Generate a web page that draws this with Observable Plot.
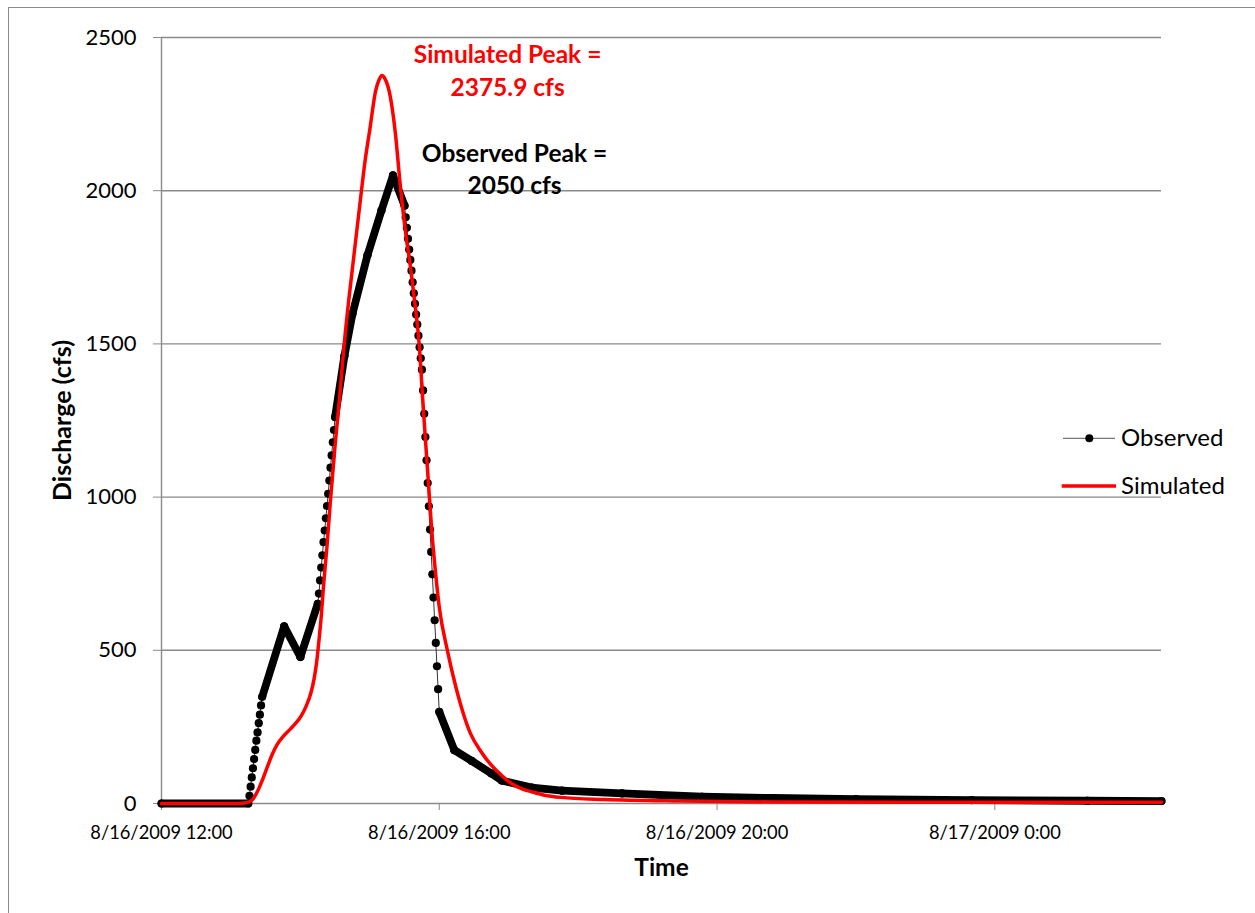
<!DOCTYPE html>
<html>
<head>
<meta charset="utf-8">
<script src="https://cdn.jsdelivr.net/npm/d3@7"></script>
<script src="https://cdn.jsdelivr.net/npm/@observablehq/plot@0.6"></script>
<style>
  html, body { margin: 0; padding: 0; background: #fff; }
  #wrap { position: relative; width: 1255px; height: 913px; overflow: hidden; font-family: Lato, "Open Sans", sans-serif; }
  #frame { position: absolute; left: 8px; top: 7px; width: 1300px; height: 1000px; border-left: 1.5px solid #8a8a8a; border-top: 1.5px solid #8a8a8a; pointer-events: none; }
  #chart { position: absolute; left: 0; top: 0; }
  #legend { position: absolute; left: 1040px; top: 410px; }
</style>
</head>
<body>
<div id="wrap">
  <div id="frame"></div>
  <div id="chart"></div>
  <svg id="legend" width="215" height="100"></svg>
</div>
<script>
// ---- data (minutes after 8/16/2009 12:00, discharge in cfs) ----
const obsMinutes = [0, 75, 76, 77, 78, 79, 80, 81, 82, 83, 84, 85, 86, 87, 106, 120, 135,
  136, 137, 138, 139, 140, 141, 142, 143, 144, 145, 146, 147, 148, 149, 150,
  158, 165, 178, 190, 200,
  210, 211, 212, 213, 214, 215, 216, 217, 218, 219, 220, 221, 222, 223, 224, 225,
  226, 227, 228, 229, 230, 231, 232, 233, 234, 235, 236, 237, 238, 239, 240,
  253, 268, 285, 294, 320, 346, 398, 467, 528, 600, 700, 800, 864];
const obsCfs = [0, 0, 25, 55, 85, 115, 145, 175, 205, 232, 262, 290, 320, 348, 578, 478, 652,
  685, 728, 770, 810, 853, 891, 931, 971, 1011, 1054, 1096, 1136, 1179, 1219, 1261,
  1460, 1598, 1790, 1935, 2050,
  1951, 1913, 1879, 1843, 1808, 1774, 1739, 1701, 1665, 1631, 1596, 1563, 1527, 1489, 1453, 1416,
  1348, 1272, 1196, 1120, 1046, 970, 894, 821, 748, 672, 598, 524, 448, 373, 299,
  174, 139, 98, 75, 52, 42, 33, 22, 18, 14, 11, 9, 8];

const simMinutes = [0, 60, 72, 78, 83, 87, 92, 96, 100, 105, 110, 116, 121, 125, 129, 132, 134, 136, 138, 140,
  143, 146, 150, 154, 158, 162, 166, 172, 176, 180, 185, 188, 190.5, 193, 197, 202, 206.5, 211, 215.5, 219,
  222.6, 226, 229.9, 234.2, 237, 240, 247, 254, 261.5, 267, 276, 285, 291, 302, 312, 320, 330, 345, 383,
  450, 527, 650, 864];
const simCfs = [0, 0, 2, 10, 40, 75, 125, 163, 193, 218, 238, 262, 288, 318, 360, 410, 460, 530, 610, 710,
  840, 990, 1170, 1330, 1505, 1650, 1780, 1975, 2100, 2200, 2326, 2362, 2375.9, 2366, 2320, 2190, 2010, 1860, 1740, 1630,
  1500, 1300, 1087, 859, 745, 641, 500, 385, 285, 228, 170, 125, 102, 66, 47, 38, 28, 20, 13,
  8, 5, 4, 4];

const xTickMinutes = [0, 240, 480, 720];
const xTickLabels = ["8/16/2009 12:00", "8/16/2009 16:00", "8/16/2009 20:00", "8/17/2009 0:00"];
const yTicks = [0, 500, 1000, 1500, 2000, 2500];
const seriesNames = ["Observed", "Simulated"];
const simPeakText = ["Simulated Peak =", "2375.9 cfs"];
const obsPeakText = ["Observed Peak =", "2050 cfs"];
const axisTitles = { x: "Time", y: "Discharge (cfs)" };

// ---- build tables ----
const base = Date.UTC(2009, 7, 16, 12, 0);
const toDate = m => new Date(base + m * 60000);
const observed = obsMinutes.map((m, i) => ({ t: toDate(m), q: obsCfs[i] }));
const simulated = simMinutes.map((m, i) => ({ t: toDate(m), q: simCfs[i] }));
// segments where the 1-minute record is so dense the dots merge into a band
const bands = [];
for (let i = 1; i < obsMinutes.length; i++) {
  if (obsMinutes[i] - obsMinutes[i - 1] > 1) {
    bands.push({ t1: observed[i - 1].t, q1: observed[i - 1].q, t2: observed[i].t, q2: observed[i].q });
  }
}
const xTicks = xTickMinutes.map(toDate);
const labelFor = new Map(xTicks.map((d, i) => [+d, xTickLabels[i]]));
const xDomain = [toDate(0), toDate(864)];
const grey = "#8a8a8a";

const chart = Plot.plot({
  width: 1255,
  height: 913,
  marginLeft: 161,
  marginRight: 94,
  marginTop: 37,
  marginBottom: 110,
  style: { fontFamily: "Lato, 'Open Sans', sans-serif", background: "transparent", color: "#000" },
  x: { type: "utc", domain: xDomain },
  y: { domain: [0, 2500] },
  marks: [
    Plot.ruleY(yTicks.filter(d => d > 0), { stroke: grey, strokeWidth: 1.4 }),
    Plot.ruleY([0], { stroke: grey, strokeWidth: 1.4 }),
    Plot.ruleX([xDomain[0]], { stroke: grey, strokeWidth: 1.4 }),
    Plot.axisY(yTicks, { tickSize: 8, tickPadding: 17, fontSize: 22, stroke: grey, tickFormat: d => String(d) }),
    Plot.axisX(xTicks, { tickSize: 7, tickPadding: 15, fontSize: 18.3, stroke: grey, tickFormat: d => labelFor.get(+d) }),
    // axis titles
    Plot.text([axisTitles.x], { frameAnchor: "bottom", dy: 72, text: d => d, fontSize: 24.5, fontWeight: "bold", fill: "#000" }),
    Plot.text([axisTitles.y], { frameAnchor: "left", textAnchor: "middle", dx: -99, rotate: -90, text: d => d, fontSize: 25, fontWeight: "bold", fill: "#000" }),
    // observed
    Plot.line(observed, { x: "t", y: "q", stroke: "#333", strokeWidth: 1 }),
    Plot.link(bands, { x1: "t1", y1: "q1", x2: "t2", y2: "q2", stroke: "#000", strokeWidth: 7.8, strokeLinecap: "round" }),
    Plot.dot(observed, { x: "t", y: "q", r: 4.1, fill: "#000", stroke: "none" }),
    // simulated
    Plot.line(simulated, { x: "t", y: "q", stroke: "#ff0000", strokeWidth: 3.5, curve: "monotone-x" }),
    // annotations
    Plot.text([simPeakText.join("\n")], { x: () => toDate(299), y: () => 2397, text: d => d, fill: "#ff0000", fontSize: 24.5, fontWeight: "bold", lineHeight: 1.32 }),
    Plot.text([obsPeakText.join("\n")], { x: () => toDate(305), y: () => 2076, text: d => d, fill: "#000", fontSize: 24.5, fontWeight: "bold", lineHeight: 1.32 })
  ]
});
document.getElementById("chart").appendChild(chart);

// legend
const lg = d3.select("#legend");
lg.append("line").attr("x1", 23).attr("x2", 75).attr("y1", 28.3).attr("y2", 28.3).attr("stroke", "#555").attr("stroke-width", 1);
lg.append("circle").attr("cx", 49.3).attr("cy", 28.3).attr("r", 4).attr("fill", "#000");
lg.append("line").attr("x1", 21.7).attr("x2", 76).attr("y1", 76).attr("y2", 76).attr("stroke", "#ff0000").attr("stroke-width", 3.5);
lg.selectAll("text.l").data(seriesNames).join("text")
  .attr("x", 81).attr("y", (d, i) => i === 0 ? 35.5 : 83.5)
  .attr("font-size", 24).attr("font-family", "Lato, 'Open Sans', sans-serif").attr("fill", "#000")
  .text(d => d);
</script>
</body>
</html>
